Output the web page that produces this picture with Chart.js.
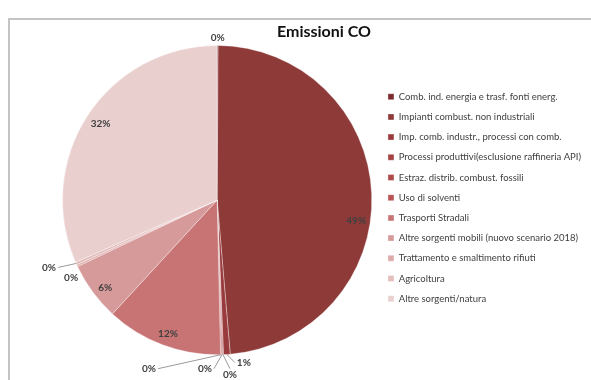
<!DOCTYPE html>
<html>
<head>
<meta charset="utf-8">
<script src="https://cdn.jsdelivr.net/npm/chart.js@4/dist/chart.umd.min.js"></script>
<style>
  html, body { margin: 0; padding: 0; background: #fff; }
  #wrap { position: relative; width: 591px; height: 380px; overflow: hidden; }
  #frame { position: absolute; left: 8px; top: 18px; width: 700px; height: 500px; border: 2px solid #c4c4c4; box-sizing: border-box; }
  canvas { position: absolute; left: 0; top: 0; }
</style>
</head>
<body>
<div id="wrap">
  <div id="frame"></div>
  <canvas id="myChart" width="591" height="380"></canvas>
</div>
<script>
// settori emissivi (ordine del grafico, in senso orario dall'alto)
const categorie = [
  'Comb. ind. energia e trasf. fonti energ.',
  'Impianti combust. non industriali',
  'Imp. comb. industr., processi con comb.',
  'Processi produttivi(esclusione raffineria API)',
  'Estraz. distrib. combust. fossili',
  'Uso di solventi',
  'Trasporti Stradali',
  'Altre sorgenti mobili (nuovo scenario 2018)',
  'Trattamento e smaltimento rifiuti',
  'Agricoltura',
  'Altre sorgenti/natura'
];
// quota percentuale delle emissioni di CO
const emissioni = [0.1, 48.6, 0.7, 0.1, 0.1, 0.1, 12.2, 6.1, 0.2, 0.3, 31.6];

const colori = [
  '#7b2a2d', '#8e3a38', '#993b3c', '#a64242', '#b04949', '#ba5454',
  '#c87474', '#d69a9a', '#ddabab', '#e4bdbd', '#eacfcf'
];

// etichette esterne con linea di richiamo per le fette piccole
const richiami = {
  0: { dx: 0, dy: -8, linea: false },
  2: { dx: 17, dy: 8, linea: true },
  3: { dx: 7, dy: 20, linea: true },
  4: { dx: -17, dy: 14, linea: true },
  5: { dx: -72, dy: 14, linea: true },
  8: { dx: -6, dy: 12, linea: false },
  9: { dx: -27, dy: 4, linea: true }
};
// piccolo spostamento verticale per le etichette interne
const spostamenti = { 1: 26, 6: 3, 7: 5 };

const etichette = {
  id: 'etichette',
  afterDatasetsDraw(chart) {
    const ctx = chart.ctx;
    const meta = chart.getDatasetMeta(0);
    const totale = emissioni.reduce((a, b) => a + b, 0);
    ctx.save();
    ctx.font = 'bold 10px Lato';
    ctx.fillStyle = '#404040';
    ctx.textAlign = 'center';
    ctx.textBaseline = 'middle';
    meta.data.forEach((arc, i) => {
      const p = arc.getProps(['x', 'y', 'startAngle', 'endAngle', 'outerRadius'], true);
      const mid = (p.startAngle + p.endAngle) / 2;
      const testo = Math.round(emissioni[i] / totale * 100) + '%';
      const c = richiami[i];
      if (!c) {
        const r = p.outerRadius * 0.9;
        const dy = spostamenti[i] || 0;
        ctx.fillText(testo, p.x + Math.cos(mid) * r, p.y + Math.sin(mid) * r + dy);
        return;
      }
      const ax = p.x + Math.cos(mid) * p.outerRadius;
      const ay = p.y + Math.sin(mid) * p.outerRadius;
      const lx = ax + c.dx;
      const ly = ay + c.dy;
      if (c.linea) {
        const w = ctx.measureText(testo).width / 2 + 2;
        let ex = lx, ey = ly;
        if (c.dx > 10) ex = lx - w;
        else if (c.dx < -10) ex = lx + w;
        else ey = ly - 6;
        ctx.strokeStyle = '#9a9a9a';
        ctx.lineWidth = 1;
        ctx.beginPath();
        ctx.moveTo(ax, ay);
        ctx.lineTo(ex, ey);
        ctx.stroke();
      }
      ctx.fillText(testo, lx, ly);
    });
    ctx.restore();
  }
};

const ctx = document.getElementById('myChart');
const myChart = new Chart(ctx, {
  type: 'pie',
  data: {
    labels: categorie,
    datasets: [{
      data: emissioni,
      backgroundColor: colori,
      borderColor: 'rgba(255,255,255,0.7)',
      borderWidth: 0.5
    }]
  },
  options: {
    responsive: false,
    animation: false,
    layout: { padding: { left: 57, right: 0, top: 0, bottom: 25 } },
    plugins: {
      title: {
        display: true,
        text: 'Emissioni CO',
        color: '#111',
        font: { family: 'Lato', size: 16, weight: 'bold' },
        padding: { top: 22, bottom: 4 }
      },
      legend: {
        position: 'right',
        // titolo vuoto: abbassa l'elenco di circa 20px
        title: { display: true, text: '', padding: 13 },
        labels: {
          boxWidth: 6,
          boxHeight: 6,
          padding: 10.7,
          color: '#404040',
          font: { family: 'Lato', size: 9.5 }
        }
      },
      tooltip: { enabled: false }
    }
  },
  plugins: [etichette]
});
</script>
</body>
</html>
